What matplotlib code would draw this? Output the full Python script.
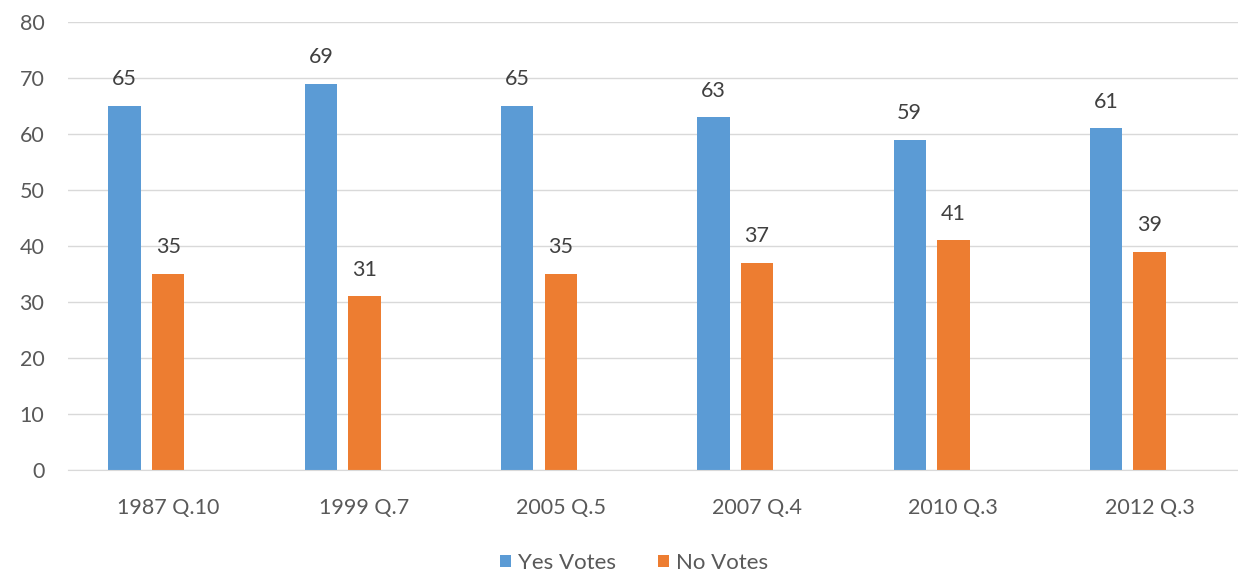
import matplotlib.pyplot as plt
import numpy as np

plt.rcParams['font.family'] = ['Lato', 'DejaVu Sans']

categories = ['1987 Q.10', '1999 Q.7', '2005 Q.5', '2007 Q.4', '2010 Q.3', '2012 Q.3']
yesVotes = [65, 69, 65, 63, 59, 61]
noVotes = [35, 31, 35, 37, 41, 39]

blue = '#5B9BD5'
orange = '#ED7D31'

fig = plt.figure(figsize=(12.38, 5.77), dpi=100)
ax = fig.add_axes([68 / 1238, 107 / 577, 1170 / 1238, 448 / 577])

x = np.arange(len(categories))
w = 0.165
offset = 0.222

yesBars = ax.bar(x - offset, yesVotes, w, color=blue, label='Yes Votes')
noBars = ax.bar(x, noVotes, w, color=orange, label='No Votes')

for bars, vals in [(yesBars, yesVotes), (noBars, noVotes)]:
    for b, v in zip(bars, vals):
        ax.annotate(str(v), (b.get_x() + b.get_width() / 2, v),
                    xytext=(0, 12), textcoords='offset points',
                    ha='center', va='bottom', fontsize=15.5, color='#404040')

ax.set_ylim(0, 80)
ax.set_yticks(range(0, 81, 10))
ax.set_xlim(-0.51, 5.45)
ax.set_xticks(x)
ax.set_xticklabels(categories)

ax.grid(axis='y', color='#D9D9D9', linewidth=1)
ax.set_axisbelow(True)
for s in ['top', 'right', 'left']:
    ax.spines[s].set_visible(False)
ax.spines['bottom'].set_color('#D9D9D9')
ax.tick_params(axis='both', length=0, labelsize=15.5, colors='#595959')
ax.tick_params(axis='y', pad=17)
ax.tick_params(axis='x', pad=20)

fig.legend(handles=[yesBars, noBars], loc='center', bbox_to_anchor=(634 / 1238, 1 - 563 / 577),
           ncol=2, frameon=False, fontsize=16, labelcolor='#595959',
           handlelength=0.5, handleheight=0.5, handletextpad=0.3, columnspacing=1.9)

fig.savefig('out.png', dpi=100)
